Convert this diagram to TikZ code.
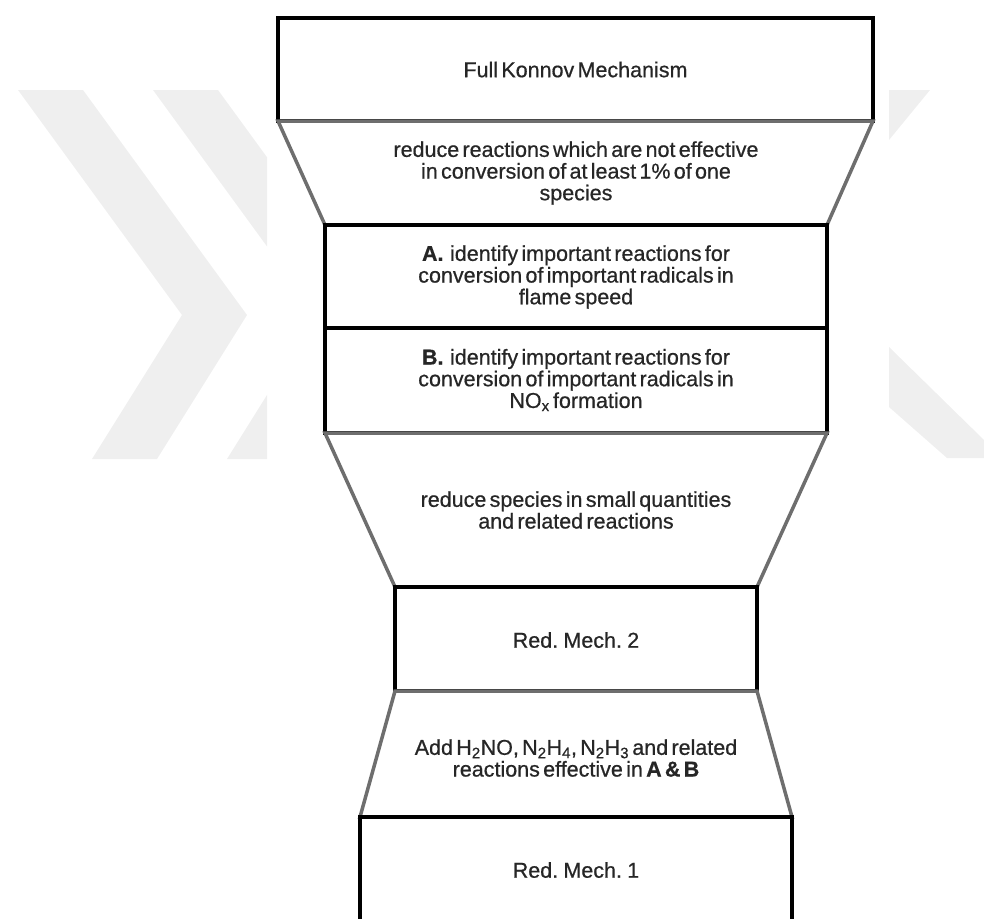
\documentclass[tikz,border=0pt]{standalone}
\usepackage{fontspec}
\setmainfont{Liberation Sans}[WordSpace=0.55,FakeBold=0.6]
\begin{document}
\begin{tikzpicture}[x=1pt,y=-1pt,
  boxline/.style={draw=black,line width=4pt,fill=white},
  trapline/.style={draw=linegray,line width=3.5pt,fill=white},
  wmark/.style={fill=wmgray,draw=none},
  txt/.style={align=center,inner sep=0pt,text=black!85,font=\fontsize{21.5}{21.7}\selectfont}]
\definecolor{linegray}{HTML}{6E6E6E}
\definecolor{wmgray}{HTML}{EFEFEF}
\useasboundingbox (0,0) rectangle (984,918);
% watermark
\begin{scope}
\clip (0,0) rectangle (267,918);
\fill[wmark] (18,90) -- (83,90) -- (247,315) -- (157,459) -- (92,459) -- (182,315) -- cycle;
\fill[wmark] (153,90) -- (218,90) -- (382,315) -- (292,459) -- (227,459) -- (317,315) -- cycle;
\end{scope}
\fill[wmark] (889,90) -- (930,90) -- (889,140) -- cycle;
\fill[wmark] (889,347) -- (984,440) -- (984,458) -- (947,458) -- (889,407) -- cycle;
% stages
\draw[boxline] (278,18) rectangle (873,121);
\node[txt] (full) at (575.5,69.5) {Full Konnov Mechanism};
\draw[trapline] (278,121) -- (873,121) -- (827,225) -- (325,225) -- cycle;
\node[txt] (red1) at (576,173) {reduce reactions which are not effective\\in conversion of at least 1\% of one\\species};
\draw[boxline] (325,225) rectangle (827,328);
\node[txt] (ida) at (576,277) {\textbf{A.}\ \ identify important reactions for\\conversion of important radicals in\\flame speed};
\draw[boxline] (325,328) rectangle (827,433);
\node[txt] (idb) at (576,380) {\textbf{B.}\ \ identify important reactions for\\conversion of important radicals in\\NO\textsubscript{x} formation};
\draw[trapline] (325,433) -- (827,433) -- (757,587) -- (395,587) -- cycle;
\node[txt] (red2) at (576,510) {reduce species in small quantities\\and related reactions};
\draw[boxline] (395,587) rectangle (757,691);
\node[txt] (rm2) at (576,640) {Red. Mech. 2};
\draw[trapline] (395,691) -- (757,691) -- (792,817) -- (360,817) -- cycle;
\node[txt] (add) at (576,758) {Add H\textsubscript{2}NO, N\textsubscript{2}H\textsubscript{4}, N\textsubscript{2}H\textsubscript{3} and related\\reactions effective in \textbf{A \& B}};
\draw[boxline] (360,817) rectangle (792,926);
\node[txt] (rm1) at (576,870) {Red. Mech. 1};
\end{tikzpicture}
\end{document}
